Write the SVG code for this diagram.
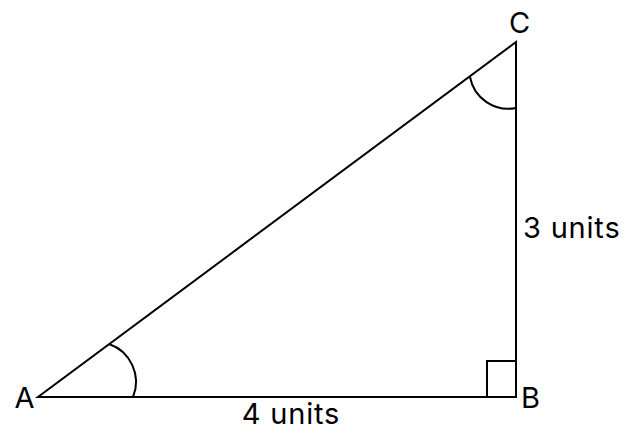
<svg xmlns="http://www.w3.org/2000/svg" width="634" height="442" viewBox="0 0 634 442">
<style>
.ln{fill:none;stroke:#000;stroke-width:2}
.lb{font-family:Inter,"Liberation Sans",sans-serif;font-size:29px;letter-spacing:0.8px;fill:#000}
</style>
<rect width="634" height="442" fill="#fff"/>
<g id="connectors">
<path class="ln" d="M38,397 H516 V42 Z"/>
</g>
<g id="angle-A"><path class="ln" d="M109,344 A40,40 0 0 1 133,397"/></g>
<g id="angle-C"><path class="ln" d="M470,77 A39,39 0 0 0 516,108"/></g>
<g id="right-angle-B"><path class="ln" d="M487,397 V361 H516"/></g>
<g id="A"><text class="lb" x="25" y="408" text-anchor="middle">A</text></g>
<g id="B"><text class="lb" x="521" y="408">B</text></g>
<g id="C"><text class="lb" x="520" y="33" text-anchor="middle">C</text></g>
<g id="side-BC"><text class="lb" x="523" y="238">3 units</text></g>
<g id="side-AB"><text class="lb" x="291" y="424" text-anchor="middle">4 units</text></g>
</svg>
